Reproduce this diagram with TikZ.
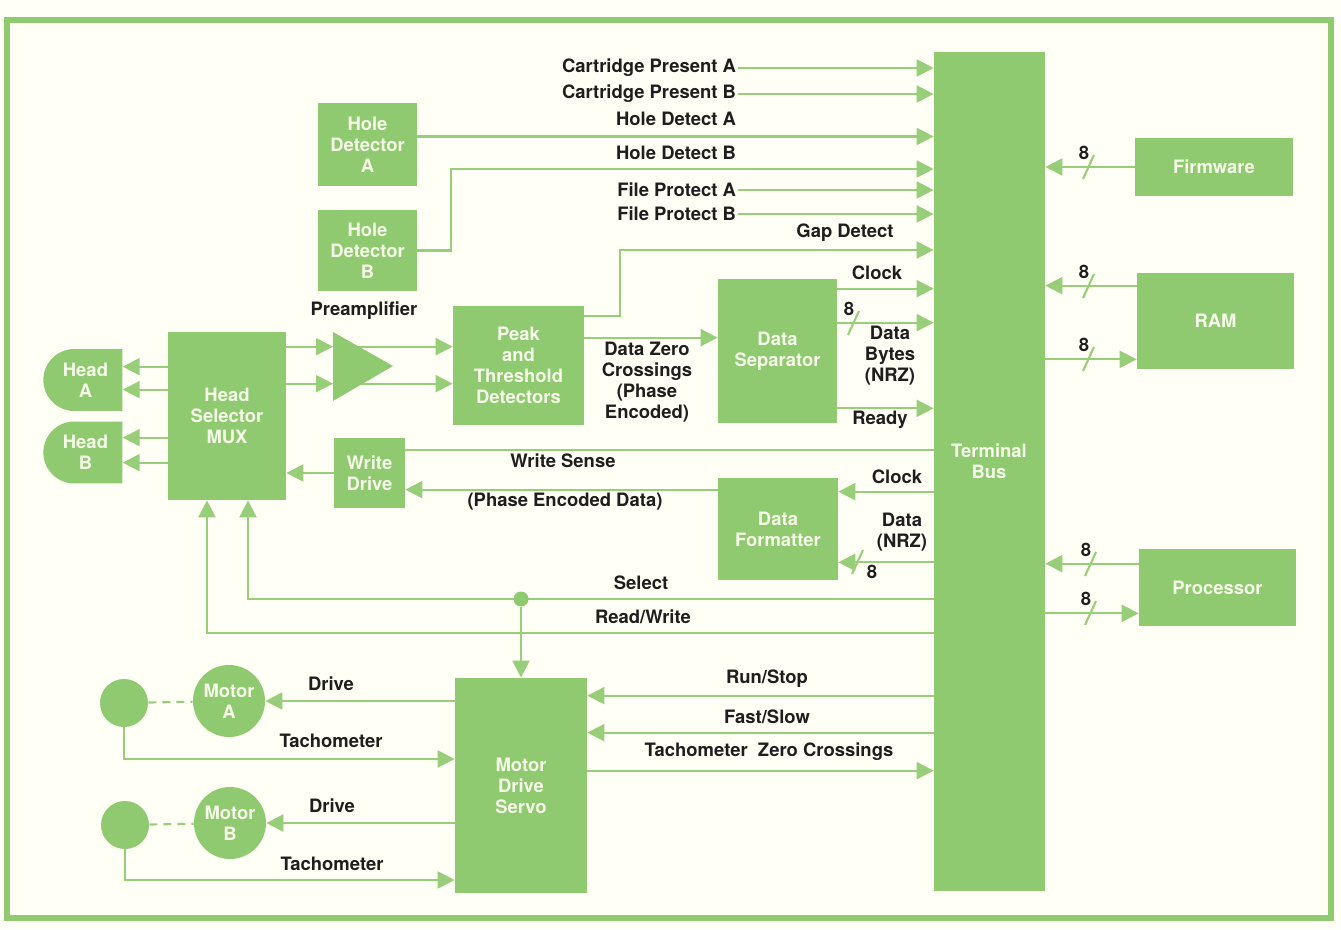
\documentclass[tikz,border=0pt]{standalone}
\usepackage{fontspec}
\setmainfont{TeX Gyre Heros}
\usetikzlibrary{calc, positioning, arrows.meta, shapes.misc}

\definecolor{hpgreen}{RGB}{143,201,112}
\definecolor{hpline}{RGB}{152,206,122}
\definecolor{hpcream}{RGB}{246,250,232}
\definecolor{hppaper}{RGB}{255,255,246}
\definecolor{hpink}{RGB}{30,30,30}

\tikzset{
  block/.style={fill=hpgreen, text=hpcream, align=center, inner sep=0pt, font=\fontsize{10.5}{12}\selectfont\bfseries},
  lbl/.style={text=hpink, align=center, inner sep=1pt, font=\fontsize{10.5}{12}\selectfont\bfseries},
  wire/.style={draw=hpline, line width=1.2pt},
  sig/.style={wire, -{Triangle[length=0.34cm,width=0.34cm]}},
  bus8/.pic={\draw[wire] (-5,12) -- (6,-12); \node[lbl] at (-4,-14) {8};},
  bus8 low/.pic={\draw[wire] (-5,12) -- (6,-12); \node[lbl] at (15,10) {8};},
}

\begin{document}
\begin{tikzpicture}[x=0.02cm, y=-0.02cm]
\fill[hppaper] (0,0) rectangle (1341,929);
\useasboundingbox (0,0) rectangle (1341,929);
\draw[hpgreen, line width=0.12cm] (7,20) rectangle (1331,918);

\node[block, minimum width=2.22cm, minimum height=16.78cm] (bus) at (989.5,471.5) {};
\node[block, fill=none] (bus name) at (989,461) {Terminal\\Bus};
\node[block, minimum width=3.16cm, minimum height=1.16cm] (firmware) at (1214,167) {Firmware};
\node[block, minimum width=3.14cm, minimum height=1.92cm] (ram) at (1215.5,321) {RAM};
\node[block, minimum width=3.14cm, minimum height=1.54cm] (processor) at (1217.5,587.5) {Processor};
\node[block, minimum width=1.98cm, minimum height=1.66cm] (hole a) at (367.5,144.5) {Hole\\Detector\\A};
\node[block, minimum width=1.98cm, minimum height=1.62cm] (hole b) at (367.5,250.5) {Hole\\Detector\\B};
\node[block, minimum width=2.36cm, minimum height=3.36cm] (mux) at (227,416) {Head\\Selector\\MUX};
\node[block, minimum width=2.62cm, minimum height=2.38cm] (peak) at (518.5,365.5) {Peak\\and\\Threshold\\Detectors};
\node[block, minimum width=2.38cm, minimum height=2.88cm] (separator) at (777.5,351) {Data\\Separator};
\node[block, minimum width=1.42cm, minimum height=1.40cm] (write) at (369.5,473) {Write\\Drive};
\node[block, minimum width=2.40cm, minimum height=2.04cm] (formatter) at (778,529) {Data\\Formatter};
\node[block, minimum width=2.64cm, minimum height=4.30cm] (servo) at (521,785.5) {Motor\\Drive\\Servo};
\node[block, rounded rectangle, rounded rectangle right arc=none, minimum width=1.58cm, minimum height=1.24cm, anchor=west] (head a) at (43,380) {Head\\A};
\node[block, rounded rectangle, rounded rectangle right arc=none, minimum width=1.58cm, minimum height=1.24cm, anchor=west] (head b) at (43,452.5) {Head\\B};
\node[block, circle, minimum size=1.44cm] (motor a) at (229,701) {Motor\\A};
\node[block, circle, minimum size=0.96cm] (disk a) at (124,703) {};
\node[block, circle, minimum size=1.44cm] (motor b) at (230,823) {Motor\\B};
\node[block, circle, minimum size=0.96cm] (disk b) at (125,825) {};

\node[lbl, anchor=east] (cart a) at (738,68) {Cartridge Present A};
\node[lbl, anchor=east] (cart b) at (738,94) {Cartridge Present B};
\node[lbl, anchor=east] (hole a name) at (738,119) {Hole Detect A};
\node[lbl, anchor=east] (hole b name) at (738,153) {Hole Detect B};
\node[lbl, anchor=east] (prot a) at (738,190) {File Protect A};
\node[lbl, anchor=east] (prot b) at (738,214) {File Protect B};
\draw[sig] (cart a.east) -- (cart a.east -| bus.west);
\draw[sig] (cart b.east) -- (cart b.east -| bus.west);
\draw[sig] (prot a.east) -- (prot a.east -| bus.west);
\draw[sig] (prot b.east) -- (prot b.east -| bus.west);
\coordinate (hda out) at ([yshift=0.16cm]hole a.east);
\draw[sig] (hda out) -- (hda out -| bus.west);
\coordinate (hdb bend) at (451,169);
\draw[sig] (hole b.east) -| (hdb bend) -- (hdb bend -| bus.west);

\coordinate (gap out) at ([yshift=-0.2cm]peak.north east);
\coordinate (gap bend) at (620,250);
\draw[sig] (gap out) -| (gap bend) -- (gap bend -| bus.west);
\node[lbl] (gap) at (845,233) {Gap Detect};

\coordinate (pre) at (333,366);
\coordinate (rd a) at ([yshift=-0.3cm]mux.north east);
\coordinate (rd b) at ([yshift=-1.04cm]mux.north east);
\draw[sig] (rd a -| pre) -- (rd a -| peak.west);
\draw[sig] (rd b -| pre) -- (rd b -| peak.west);
\fill[hpgreen] (pre) ++(0,-34) -- ++(60,34) -- ++(-60,35) -- cycle;
\draw[sig] (rd a) -- (rd a -| pre);
\draw[sig] (rd b) -- (rd b -| pre);
\node[lbl] (preamp) at (364,311) {Preamplifier};

\coordinate (ha1) at ([yshift=-0.7cm]mux.north west);
\coordinate (ha2) at ([yshift=-1.16cm]mux.north west);
\coordinate (hb1) at ([yshift=-2.12cm]mux.north west);
\coordinate (hb2) at ([yshift=-2.62cm]mux.north west);
\draw[sig] (ha1) -- (ha1 -| head a.east);
\draw[sig] (ha2) -- (ha2 -| head a.east);
\draw[sig] (hb1) -- (hb1 -| head b.east);
\draw[sig] (hb2) -- (hb2 -| head b.east);

\coordinate (dzc) at ([yshift=-0.64cm]peak.north east);
\draw[sig] (dzc) -- (dzc -| separator.west);
\node[lbl] (dzc name) at (647,382) {Data Zero\\Crossings\\(Phase\\Encoded)};

\coordinate (clk out) at ([yshift=-0.2cm]separator.north east);
\draw[sig] (clk out) -- (clk out -| bus.west);
\node[lbl] (clk name) at (877,273) {Clock};
\coordinate (byte out) at ([yshift=-0.88cm]separator.north east);
\draw[sig] (byte out) -- (byte out -| bus.west);
\pic at (853,323) {bus8};
\node[lbl] (byte name) at (890,356) {Data\\Bytes\\(NRZ)};
\coordinate (rdy out) at ([yshift=0.3cm]separator.south east);
\draw[sig] (rdy out) -- (rdy out -| bus.west);
\node[lbl] (rdy name) at (880,420) {Ready};

\coordinate (ws) at ([yshift=-0.24cm]write.north east);
\draw[wire] (ws) -- (ws -| bus.west);
\node[lbl] (ws name) at (563,461) {Write Sense};
\draw[sig] (write.west) -- (write.west -| mux.east);
\coordinate (ped) at ([yshift=-0.24cm]formatter.north west);
\draw[sig] (ped) -- (ped -| write.east);
\node[lbl] (ped name) at (565,502) {(Phase Encoded Data)};
\coordinate (fclk) at ([yshift=-0.28cm]formatter.north east);
\draw[sig] (fclk -| bus.west) -- (fclk);
\node[lbl] (fclk name) at (897,477) {Clock};
\coordinate (fdat) at ([yshift=0.36cm]formatter.south east);
\draw[sig] (fdat -| bus.west) -- (fdat);
\pic at (857,562) {bus8 low};
\node[lbl] (fdat name) at (902,532) {Data\\(NRZ)};

\coordinate (sel) at (248,599);
\coordinate (rw) at (207,633);
\draw[sig] (sel -| bus.west) -| (sel |- mux.south);
\draw[sig] (rw -| bus.west) -| (rw |- mux.south);
\node[lbl] (sel name) at (641,583) {Select};
\node[lbl] (rw name) at (643,617) {Read/Write};
\node[circle, fill=hpgreen, minimum size=0.3cm, inner sep=0pt] (split) at (521,599) {};
\draw[sig] (split) -- (split |- servo.north);

\coordinate (runstop) at ([yshift=-0.36cm]servo.north east);
\draw[sig] (runstop -| bus.west) -- (runstop);
\node[lbl] (runstop name) at (767,679) {Run/Stop};
\coordinate (fastslow) at ([yshift=-1.1cm]servo.north east);
\draw[sig] (fastslow -| bus.west) -- (fastslow);
\node[lbl] (fastslow name) at (767,717) {Fast/Slow};
\coordinate (tzc) at ([yshift=-1.86cm]servo.north east);
\draw[sig] (tzc) -- (tzc -| bus.west);
\node[lbl] (tzc name) at (769,752) {Tachometer~ Zero Crossings};

\draw[sig] (motor a.east -| servo.west) -- (motor a.east);
\draw[wire, dash pattern=on 0.16cm off 0.12cm] (disk a) -- (motor a);
\coordinate (tach a) at ([yshift=-1.12cm]disk a.center);
\draw[sig] (disk a.south) -- (tach a) -- (tach a -| servo.west);
\node[lbl] (drive a name) at (331,684) {Drive};
\node[lbl] (tach a name) at (331,741) {Tachometer};
\draw[sig] (motor b.east -| servo.west) -- (motor b.east);
\draw[wire, dash pattern=on 0.16cm off 0.12cm] (disk b) -- (motor b);
\coordinate (tach b) at ([yshift=-1.1cm]disk b.center);
\draw[sig] (disk b.south) -- (tach b) -- (tach b -| servo.west);
\node[lbl] (drive b name) at (332,806) {Drive};
\node[lbl] (tach b name) at (332,864) {Tachometer};

\draw[sig] (firmware.west) -- (firmware.west -| bus.east);
\pic at (1088,167) {bus8};
\coordinate (ram in) at ([yshift=-0.26cm]ram.north west);
\draw[sig] (ram in) -- (ram in -| bus.east);
\pic at (1088,286) {bus8};
\coordinate (ram out) at ([yshift=0.2cm]ram.south west);
\draw[sig] (ram out -| bus.east) -- (ram out);
\pic at (1088,359) {bus8};
\coordinate (cpu in) at ([yshift=-0.3cm]processor.north west);
\draw[sig] (cpu in) -- (cpu in -| bus.east);
\pic at (1090,564) {bus8};
\coordinate (cpu out) at ([yshift=0.26cm]processor.south west);
\draw[sig] (cpu out -| bus.east) -- (cpu out);
\pic at (1090,613) {bus8};
\end{tikzpicture}
\end{document}
